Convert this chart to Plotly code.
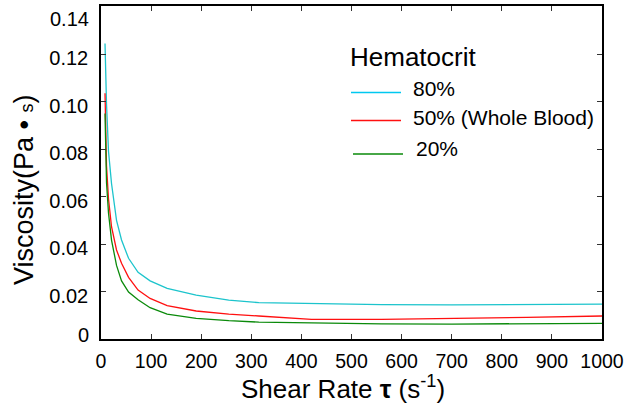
import plotly.graph_objects as go

# ---- data ----
shear_rate = [8, 11, 15, 21, 31, 41, 55, 74, 98, 132, 190, 255, 315, 420, 560, 700, 850, 1000]
visc_80 = [0.1245, 0.099, 0.079, 0.0655, 0.050, 0.0417, 0.034, 0.0281, 0.0245, 0.0213,
           0.0185, 0.0164, 0.0153, 0.0149, 0.0145, 0.0144, 0.0146, 0.0147]
visc_50 = [0.1035, 0.073, 0.059, 0.0473, 0.0375, 0.0319, 0.026, 0.0206, 0.0171, 0.0141,
           0.0118, 0.0105, 0.0097, 0.0083, 0.0083, 0.0086, 0.0091, 0.0097]
visc_20 = [0.095, 0.066, 0.053, 0.0417, 0.031, 0.0245, 0.0198, 0.0165, 0.0132, 0.0105,
           0.0087, 0.0077, 0.0071, 0.0067, 0.0064, 0.0063, 0.0064, 0.0066]

series_names = ["80%", "50% (Whole Blood)", "20%"]
series_values = [visc_80, visc_50, visc_20]
series_colors = ["#1cc4cc", "#ff1010", "#0a8a0a"]
legend_colors = ["#00c8f0", "#ff1010", "#0a8a0a"]

x_ticks = [0, 100, 200, 300, 400, 500, 600, 700, 800, 900, 1000]
x_ticktext = [str(v) for v in x_ticks]
y_ticks = [0, 0.02, 0.04, 0.06, 0.08, 0.10, 0.12, 0.14]
y_ticktext = ["0", "0.02", "0.04", "0.06", "0.08", "0.10", "0.12", "0.14"]

FONT = "Liberation Sans, Arial, sans-serif"
W, H = 633, 404
ML, MR, MT, MB = 101, 31, 6, 65
PW, PH = W - ML - MR, H - MT - MB


def px(xp):
    return (xp - ML) / PW


def py(yp):
    return (H - MB - yp) / PH


fig = go.Figure()
for name, vals, col in zip(series_names, series_values, series_colors):
    fig.add_trace(go.Scatter(x=shear_rate, y=vals, mode="lines", name=name,
                             line=dict(color=col, width=1.3), showlegend=False))

# manual legend (layout elements)
shapes = []
annotations = [dict(x=px(348), y=py(57), xref="paper", yref="paper", text="Hematocrit",
                    showarrow=False, xanchor="left", yanchor="middle",
                    font=dict(family=FONT, size=26, color="black"))]
line_y = [92.5, 120.5, 154]
text_y = [88, 117, 148]
line_x0 = [351, 351, 353]
text_x = [411, 411, 414]
for i, name in enumerate(series_names):
    shapes.append(dict(type="line", xref="paper", yref="paper",
                       x0=px(line_x0[i]), x1=px(line_x0[i] + 50),
                       y0=py(line_y[i]), y1=py(line_y[i]),
                       line=dict(color=legend_colors[i], width=1.6)))
    annotations.append(dict(x=px(text_x[i]), y=py(text_y[i]), xref="paper", yref="paper",
                            text=name, showarrow=False, xanchor="left", yanchor="middle",
                            font=dict(family=FONT, size=21, color="black")))

# axis titles as annotations for precise placement
annotations.append(dict(x=px(343), y=py(387), xref="paper", yref="paper",
                        text="Shear Rate <b>τ</b> (s<sup>-1</sup>)", showarrow=False,
                        xanchor="center", yanchor="middle",
                        font=dict(family=FONT, size=26, color="black")))
annotations.append(dict(x=px(24), y=py(190), xref="paper", yref="paper",
                        text="Viscosity(Pa • <span style='font-size:18px'>s</span>)",
                        showarrow=False, textangle=-90,
                        xanchor="center", yanchor="middle",
                        font=dict(family=FONT, size=27, color="black")))

# end labels of the y axis, nudged inward as in the reference
annotations.append(dict(x=px(91), y=py(19), xref="paper", yref="paper", text=y_ticktext[-1],
                        showarrow=False, xanchor="right", yanchor="middle",
                        font=dict(family=FONT, size=20, color="black")))
annotations.append(dict(x=px(91), y=py(335), xref="paper", yref="paper", text=y_ticktext[0],
                        showarrow=False, xanchor="right", yanchor="middle",
                        font=dict(family=FONT, size=20, color="black")))
y_ticktext_axis = [""] + y_ticktext[1:-1] + [""]

fig.update_layout(
    width=W, height=H,
    margin=dict(l=ML, r=MR, t=MT, b=MB),
    paper_bgcolor="white", plot_bgcolor="white",
    font=dict(family=FONT, color="black"),
    shapes=shapes, annotations=annotations,
    showlegend=False,
)
fig.update_xaxes(
    range=[0, 1000], tickvals=x_ticks, ticktext=x_ticktext,
    showgrid=False, zeroline=False, automargin=False,
    showline=True, linecolor="black", linewidth=1.5, mirror="ticks",
    ticks="inside", ticklen=5, tickcolor="#333", tickwidth=1.2,
    tickfont=dict(family=FONT, size=19.5, color="black"),
    ticklabelstandoff=4, ticklabeloverflow="allow",
)
fig.update_yaxes(
    range=[0, 0.1403], tickvals=y_ticks, ticktext=y_ticktext_axis,
    showgrid=False, zeroline=False, automargin=False,
    showline=True, linecolor="black", linewidth=1.5, mirror="ticks",
    ticks="inside", ticklen=5, tickcolor="#333", tickwidth=1.2,
    tickfont=dict(family=FONT, size=20, color="black"),
    ticklabelstandoff=7, ticklabelshift=4, ticklabeloverflow="allow",
)

fig.write_html("out.html", config={"displayModeBar": False},
               post_script="document.body.style.margin='0';document.body.style.overflow='hidden';")
